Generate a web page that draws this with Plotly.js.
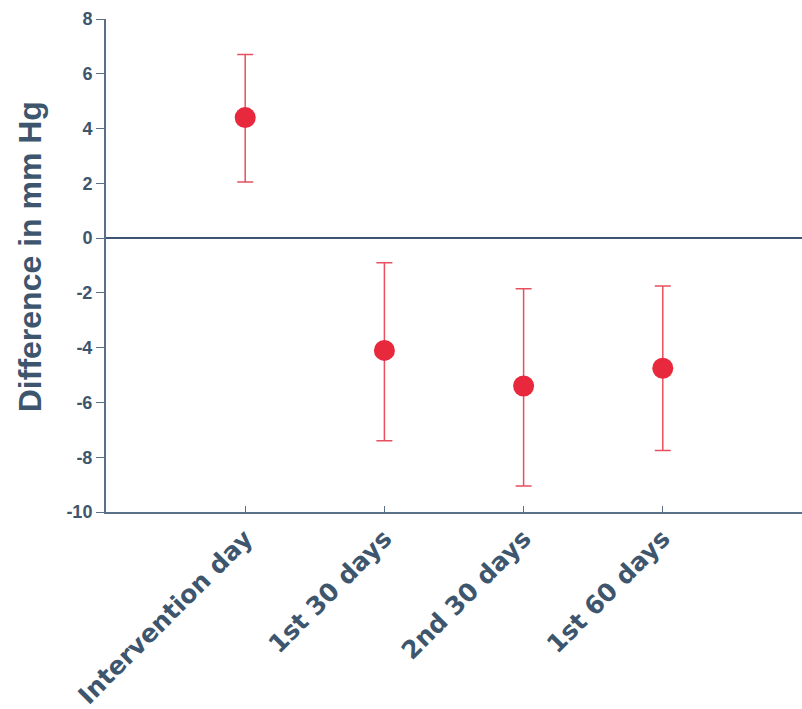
<!DOCTYPE html>
<html>
<head>
<meta charset="utf-8">
<script src="https://cdn.plot.ly/plotly-3.0.1.min.js"></script>
<style>html,body{margin:0;padding:0;background:#fff;}#chart{width:802px;height:709px;}</style>
</head>
<body>
<div id="chart"></div>
<script>
const categories = ["Intervention day", "1st 30 days", "2nd 30 days", "1st 60 days"];
const meanDiff = [4.4, -4.1, -5.4, -4.75];
const upperCI = [6.7, -0.9, -1.85, -1.75];
const lowerCI = [2.05, -7.4, -9.05, -7.75];
const yTicks = [-10, -8, -6, -4, -2, 0, 2, 4, 6, 8];
const yTitle = "Difference in mm Hg";

const textColor = "#3d566e";
const trace = {
  type: "scatter",
  mode: "markers",
  x: categories,
  y: meanDiff,
  marker: {color: "#e8283c", size: 21},
  error_y: {
    type: "data",
    symmetric: false,
    array: upperCI.map((u, i) => u - meanDiff[i]),
    arrayminus: meanDiff.map((m, i) => m - lowerCI[i]),
    color: "#e8505f",
    thickness: 1.5,
    width: 8
  },
  hoverinfo: "skip",
  cliponaxis: false
};

const layout = {
  width: 802, height: 709,
  margin: {l: 106, r: 0, t: 19, b: 197},
  paper_bgcolor: "#ffffff",
  plot_bgcolor: "#ffffff",
  showlegend: false,
  font: {family: "Arial, 'Liberation Sans', sans-serif", color: textColor},
  xaxis: {
    type: "category",
    range: [-1, 4],
    showgrid: false,
    zeroline: false,
    showline: true,
    linecolor: "#5a7088",
    linewidth: 2,
    ticks: "inside",
    ticklen: 6,
    tickcolor: "#5a7088",
    tickangle: -45,
    tickfont: {size: 25, color: textColor, family: "'DejaVu Sans', Arial, sans-serif", weight: "bold"}
  },
  yaxis: {
    range: [-10, 8],
    tickvals: yTicks,
    ticktext: yTicks.map(String),
    showgrid: false,
    zeroline: true,
    zerolinecolor: "#3b5573",
    zerolinewidth: 2.5,
    showline: true,
    linecolor: "#5a7088",
    linewidth: 2,
    ticks: "outside",
    ticklen: 8,
    tickcolor: "#5a7088",
    tickfont: {size: 18, color: textColor, weight: "bold"}
  },
  annotations: [{
    text: yTitle,
    xref: "paper", yref: "paper",
    x: -0.109, y: 0.517,
    xanchor: "center", yanchor: "middle",
    textangle: -90,
    showarrow: false,
    font: {size: 32, color: textColor, weight: "bold"}
  }]
};

Plotly.newPlot("chart", [trace], layout, {displayModeBar: false, staticPlot: true});
</script>
</body>
</html>
